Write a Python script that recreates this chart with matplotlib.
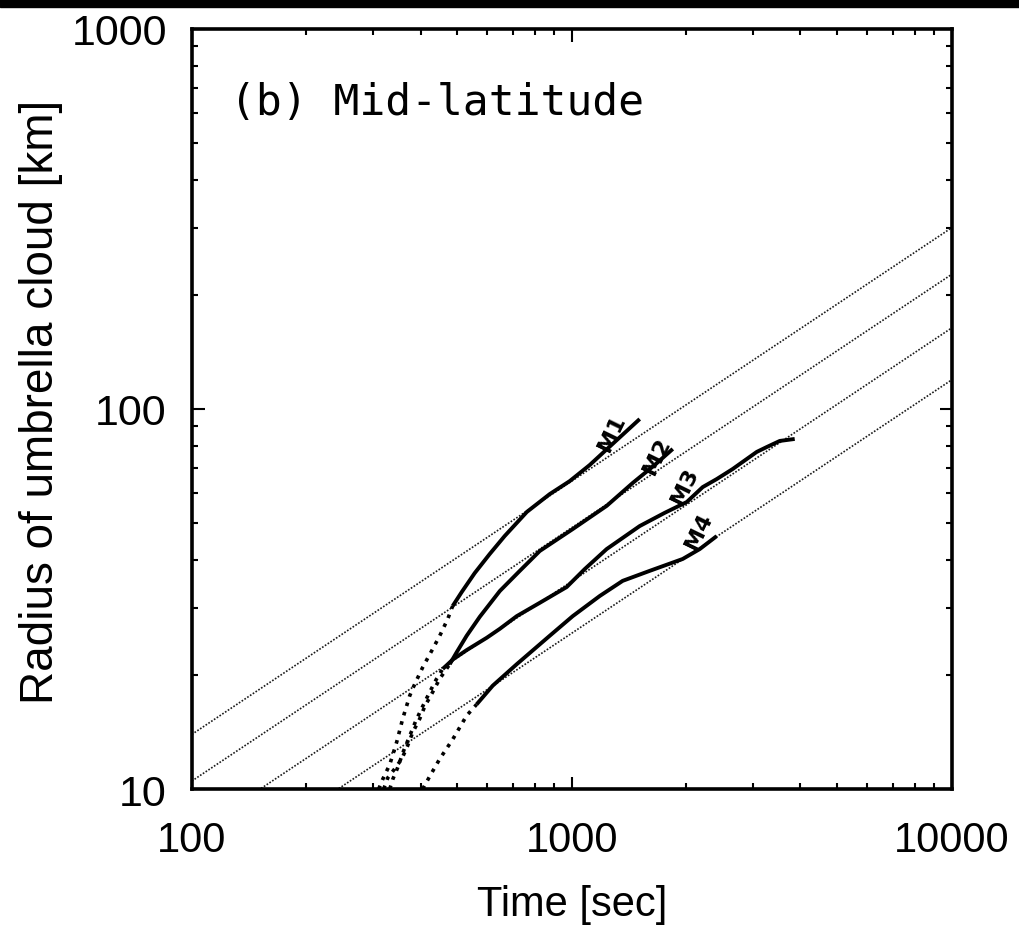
import numpy as np
import matplotlib
matplotlib.use('Agg')
import matplotlib.pyplot as plt
from matplotlib.ticker import LogLocator, NullFormatter
from matplotlib.patches import Rectangle

# reference lines R = a * (t/1000)^(2/3)
line_coef = [64.6, 48.7, 35.2, 25.7]
line_slope = 2.0 / 3.0

# M1
m1_dot_t = [310.5, 318, 332, 346.3, 359, 374.7, 386.3, 405.3, 428, 449.4, 471.6, 486]
m1_dot_r = [10.0, 10.6, 11.6, 13.3, 15.3, 17.6, 18.9, 20.9, 23.1, 25.3, 28.0, 30.3]
m1_t = [486, 513.6, 555.5, 608, 666, 762, 875, 988, 1115, 1298, 1510]
m1_r = [30.3, 33.0, 37.0, 41.5, 46.3, 53.6, 59.7, 64.6, 71.2, 81.9, 94.1]

# M2
m2_dot_t = [320, 328, 342, 357, 370, 381.6, 398, 410.5, 430.7, 449.4, 477.5]
m2_dot_r = [10.0, 10.7, 11.3, 12.0, 13.0, 14.1, 15.3, 16.5, 18.0, 19.5, 21.3]
m2_t = [477.5, 498, 529, 573, 647, 730, 824, 1006, 1236, 1448, 1653, 1845]
m2_r = [21.3, 22.9, 25.3, 28.4, 33.2, 37.5, 42.3, 48.3, 55.6, 63.9, 71.2, 78.5]

# M3
m3_dot_t = [332, 338, 348.5, 361, 374.7, 388.6, 405.3, 423, 441, 457.7]
m3_dot_r = [10.0, 10.6, 11.4, 12.6, 13.8, 15.1, 16.5, 18.0, 19.5, 20.7]
m3_t = [457.7, 486, 529, 597.5, 647, 716.6, 824, 970, 1082, 1236, 1510, 1757,
        2008, 2212, 2408, 2652, 3069, 3260, 3528, 3863]
m3_r = [20.7, 21.9, 23.2, 25.0, 26.4, 28.5, 30.9, 34.0, 37.9, 42.8, 49.2, 53.3,
        56.9, 62.3, 65.4, 69.5, 77.1, 79.4, 82.4, 83.4]

# M4
m4_dot_t = [405.3, 423, 449.4, 486, 529, 562]
m4_dot_r = [10.0, 10.8, 12.0, 13.5, 15.6, 16.7]
m4_t = [562, 619.5, 716.6, 875, 1006, 1185, 1362, 1604, 1959, 2173, 2408]
m4_r = [16.7, 18.7, 21.3, 25.3, 28.5, 32.2, 35.3, 37.5, 40.3, 42.8, 46.3]

labels = ['M1', 'M2', 'M3', 'M4']
label_t = [1274, 1680, 1985, 2160]
label_r = [87.0, 75.5, 63.0, 48.0]

fig = plt.figure(figsize=(10.2, 9.28), dpi=100)
ax = fig.add_axes([0.188, 0.1487, 0.745, 0.819])

t_line = np.logspace(2, 4, 200)
for a in line_coef:
    ax.plot(t_line, a * (t_line / 1000.0) ** line_slope, color='0.1',
            lw=1.2, ls=(0, (1, 1)))

dots = [(m1_dot_t, m1_dot_r), (m2_dot_t, m2_dot_r), (m3_dot_t, m3_dot_r), (m4_dot_t, m4_dot_r)]
solids = [(m1_t, m1_r), (m2_t, m2_r), (m3_t, m3_r), (m4_t, m4_r)]
for (dt, dr), (st, sr) in zip(dots, solids):
    ax.plot(dt, dr, color='black', lw=2.6, ls=(0, (1, 1.7)))
    ax.plot(st, sr, color='black', lw=2.8, solid_capstyle='butt',
            solid_joinstyle='round')

for name, x, y in zip(labels, label_t, label_r):
    ax.text(x, y, name, rotation=64, fontsize=16, fontweight='bold',
            ha='center', va='center', family='DejaVu Sans')

ax.text(0.05, 0.904, '(b) Mid-latitude', transform=ax.transAxes,
        fontsize=31, family='DejaVu Sans Mono', va='center', ha='left')

ax.set_xscale('log')
ax.set_yscale('log')
ax.set_xlim(100, 10000)
ax.set_ylim(10, 1000)
ax.set_xticks([100, 1000, 10000], labels=['100', '1000', '10000'])
ax.set_yticks([10, 100, 1000], labels=['10', '100', '1000'])
ax.xaxis.set_minor_locator(LogLocator(base=10, subs=np.arange(2, 10)))
ax.yaxis.set_minor_locator(LogLocator(base=10, subs=np.arange(2, 10)))
ax.xaxis.set_minor_formatter(NullFormatter())
ax.yaxis.set_minor_formatter(NullFormatter())

ax.tick_params(which='both', direction='in', top=True, right=True, width=1.5)
ax.tick_params(which='major', length=9)
ax.tick_params(which='minor', length=4.5)
ax.tick_params(axis='x', which='major', pad=22, labelsize=30)
ax.tick_params(axis='y', which='major', pad=18, labelsize=31)
for lab in ax.get_xticklabels() + ax.get_yticklabels():
    lab.set_family('Liberation Sans')

for sp in ax.spines.values():
    sp.set_linewidth(2.6)

ax.set_xlabel('Time [sec]', fontsize=30, family='Liberation Sans')
ax.set_ylabel('Radius of umbrella cloud [km]', fontsize=33, family='Liberation Sans')
ax.xaxis.set_label_coords(0.5, -0.125)
ax.yaxis.set_label_coords(-0.17, 0.51)

fig.add_artist(Rectangle((0, 1 - 8 / 928), 1, 8 / 928, color='black',
                         transform=fig.transFigure))

fig.savefig('out.png', dpi=100)
